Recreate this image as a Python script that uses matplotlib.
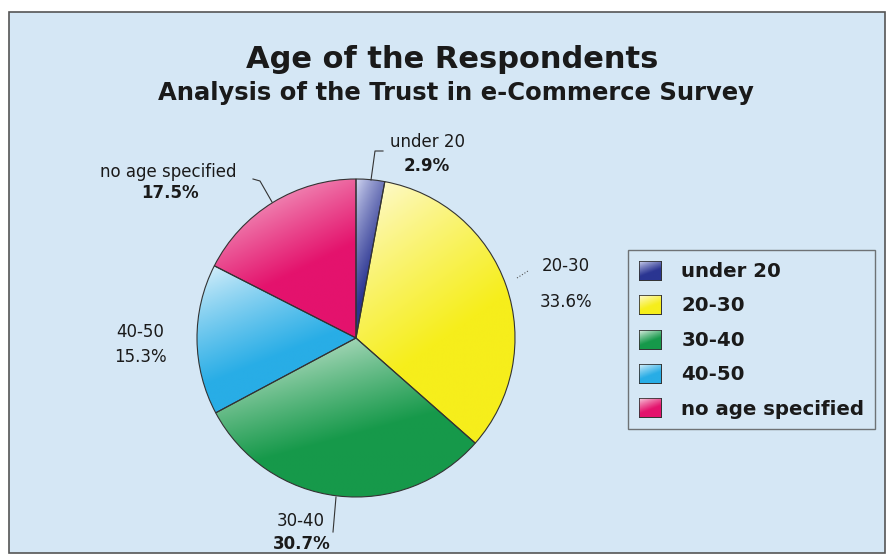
#!/usr/bin/env python3
"""Age of the respondents - pie chart with shaded wedges"""

import matplotlib.pyplot as plt
import numpy as np
from matplotlib.patches import Patch, Rectangle
from matplotlib.colors import to_rgb

plt.rcParams['font.family'] = 'DejaVu Sans'

# Data
categories = ['under 20', '20-30', '30-40', '40-50', 'no age specified']
shares = [2.9, 33.6, 30.7, 15.3, 17.5]

# Wedge colours (saturated end, light end of the shading)
dark_colors = ['#2b3592', '#f6ee1c', '#16994a', '#28ade6', '#e4136d']
light_colors = ['#d6dbf4', '#fffbe6', '#eef6f0', '#e6f5fc', '#f9d9e6']
bg = '#d5e7f5'

W, H = 887, 556
fig = plt.figure(figsize=(W / 100, H / 100), dpi=100, facecolor='white')


def shade(dc, lc, n=200):
    """light top-left -> saturated bottom-right gradient image"""
    yy, xx = np.mgrid[0:1:n * 1j, 0:1:n * 1j]
    t = np.clip((yy * 0.8 + xx * 0.35) * 1.5, 0, 1) ** 0.8
    d = np.array(to_rgb(dc))
    l = np.array(to_rgb(lc))
    return l + (d - l) * t[..., None]


# chart frame, kept behind the pie axes
fig.patches.append(Rectangle((9 / W, 1 - 553 / H), 876 / W, 541 / H,
                             transform=fig.transFigure, facecolor=bg,
                             edgecolor='#555555', linewidth=1.2, zorder=-5))

fig.text(452 / W, 1 - 60 / H, 'Age of the Respondents', ha='center', va='center',
         fontsize=22, fontweight='bold', color='#1a1a1a')
fig.text(456 / W, 1 - 93 / H, 'Analysis of the Trust in e-Commerce Survey',
         ha='center', va='center', fontsize=17.5, fontweight='bold', color='#1a1a1a')

# pie axes
cx, cy, r = 356, 338, 159
ax = fig.add_axes([(cx - r) / W, 1 - (cy + r) / H, 2 * r / W, 2 * r / H])
wedges, _ = ax.pie(shares, startangle=90, counterclock=False, radius=1,
                   colors=dark_colors,
                   wedgeprops=dict(edgecolor='#333333', linewidth=0.8))

for w, dc, lc in zip(wedges, dark_colors, light_colors):
    verts = w.get_path().vertices
    x0, y0 = verts.min(axis=0)
    x1, y1 = verts.max(axis=0)
    im = ax.imshow(shade(dc, lc), extent=(x0, x1, y0, y1), origin='upper',
                   interpolation='bilinear', zorder=w.get_zorder() - 0.1)
    im.set_clip_path(w)
    w.set_facecolor('none')
ax.set_xlim(-1, 1)
ax.set_ylim(-1, 1)
ax.set_aspect('equal')
ax.axis('off')

# labels around the pie
lab = dict(ha='center', va='center', fontsize=12, color='#1a1a1a')
fig.text(428 / W, 1 - 142 / H, categories[0], **lab)
fig.text(427 / W, 1 - 166 / H, f'{shares[0]}%', fontweight='bold', **lab)
fig.text(566 / W, 1 - 266 / H, categories[1], **lab)
fig.text(566 / W, 1 - 302 / H, f'{shares[1]}%', **lab)
fig.text(301 / W, 1 - 521 / H, categories[2], **lab)
fig.text(302 / W, 1 - 544 / H, f'{shares[2]}%', fontweight='bold', **lab)
fig.text(140 / W, 1 - 332 / H, categories[3], **lab)
fig.text(140 / W, 1 - 357 / H, f'{shares[3]}%', **lab)
fig.text(168 / W, 1 - 172 / H, categories[4], **lab)
fig.text(170 / W, 1 - 193 / H, f'{shares[4]}%', fontweight='bold', **lab)

# leader lines (figure pixel coordinates)
leaders = [
    [(371, 180), (375, 151), (383, 151)],
    [(336, 497), (333, 532)],
    [(272, 202), (260, 181), (253, 179)],
]
for pts in leaders:
    px, py = zip(*pts)
    fig.add_artist(plt.Line2D(np.array(px) / W, 1 - np.array(py) / H,
                              transform=fig.transFigure, color='#333333',
                              linewidth=0.8))
fig.add_artist(plt.Line2D(np.array([517, 528]) / W, 1 - np.array([278, 271]) / H,
                          transform=fig.transFigure, color='#555555',
                          linewidth=0.8, linestyle=':'))

# legend
handles = [Patch(facecolor=c, edgecolor='#333333', linewidth=0.6) for c in dark_colors]
leg = fig.legend(handles, categories, loc='upper left',
                 bbox_to_anchor=(628 / W, 1 - 250 / H), frameon=True,
                 prop=dict(family='DejaVu Sans', weight='bold', size=14.2),
                 handlelength=1.1, handleheight=1.1, handletextpad=1.05,
                 labelspacing=0.72, borderpad=0.55, borderaxespad=0, fancybox=False)
leg.get_frame().set_facecolor(bg)
leg.get_frame().set_edgecolor('#555555')
leg.get_frame().set_linewidth(1.0)
for txt in leg.get_texts():
    txt.set_color('#1a1a1a')

# shaded legend swatches drawn over the plain handles
fig.canvas.draw()
renderer = fig.canvas.get_renderer()
for hnd, dc, lc in zip(leg.legend_handles, dark_colors, light_colors):
    bb = hnd.get_window_extent(renderer).transformed(fig.transFigure.inverted())
    sax = fig.add_axes([bb.x0, bb.y0, bb.width, bb.height], zorder=10)
    sax.imshow(shade(dc, lc, 40), extent=(0, 1, 0, 1), aspect='auto',
               interpolation='bilinear')
    sax.set_xticks([])
    sax.set_yticks([])
    for sp in sax.spines.values():
        sp.set_color('#333333')
        sp.set_linewidth(0.6)

plt.savefig('out.png', dpi=100, facecolor='white')
plt.close()
